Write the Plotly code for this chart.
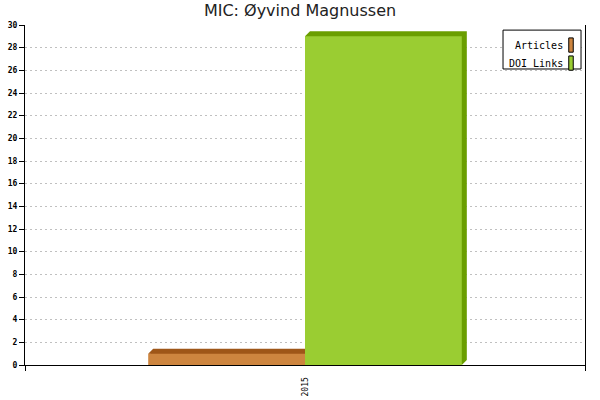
import plotly.graph_objects as go

# data
years = ["2015"]
series_names = ["Articles", "DOI Links"]
articles = [1]
doi_links = [29]
front_colors = ["#CD853F", "#9ACD32"]
side_colors = ["#9E5618", "#6A9E00"]

# plot geometry (pixels) used to turn the 3d depth into axis units
PLOT_W, PLOT_H = 560, 340
Y_MAX = 30
BAR_W = 0.28
DEPTH_PX = 5
dx = DEPTH_PX / PLOT_W
dy = DEPTH_PX * Y_MAX / PLOT_H

fig = go.Figure()
shapes = []

for i, (name, vals) in enumerate(zip(series_names, [articles, doi_links])):
    offset = -BAR_W if i == 0 else 0
    fig.add_trace(go.Bar(
        x=list(range(len(years))), y=vals, name=name,
        offset=offset, width=BAR_W,
        marker=dict(color=front_colors[i], line=dict(width=0)),
        showlegend=False,
    ))
    # top + right face of the 3d box, drawn under the front face
    for xi, v in enumerate(vals):
        x0 = xi + offset
        x1 = x0 + BAR_W
        path = (f"M {x0},{v} L {x0+dx},{v+dy} L {x1+dx},{v+dy} "
                f"L {x1+dx},{dy} L {x1},0 Z")
        shapes.append(dict(type="path", path=path, xref="x", yref="y",
                           fillcolor=side_colors[i], line=dict(width=0),
                           layer="between"))

# hand made legend: text on the left, swatch on the right
shapes.append(dict(type="rect", xref="paper", yref="paper",
                   x0=0.8536, x1=0.9929, y0=0.8706, y1=0.985,
                   line=dict(color="black", width=1), fillcolor="white",
                   layer="above"))
annotations = []
for i, name in enumerate(series_names):
    yc = 0.941 - i * 0.053
    annotations.append(dict(text=name, xref="paper", yref="paper",
                            x=0.965, y=yc, xanchor="right", yanchor="middle",
                            showarrow=False,
                            font=dict(family="DejaVu Sans Mono", size=10, color="black")))
    shapes.append(dict(type="rect", xref="paper", yref="paper",
                       x0=0.971, x1=0.979, y0=yc - 0.021, y1=yc + 0.021,
                       line=dict(color="black", width=1),
                       fillcolor=front_colors[i], layer="above"))

fig.update_layout(
    width=600, height=400,
    margin=dict(l=25, r=15, t=25, b=35),
    plot_bgcolor="white", paper_bgcolor="white",
    title=dict(text="MIC: Øyvind Magnussen", x=0.5, xanchor="center",
               y=0.975, yanchor="middle", automargin=False,
               font=dict(family="DejaVu Sans", size=16, color="#222222")),
    shapes=shapes, annotations=annotations,
    barmode="overlay",
    showlegend=False,
)

fig.update_xaxes(
    range=[-0.5, len(years) - 0.5], automargin=False,
    tickvals=list(range(len(years))), ticktext=years,
    tickangle=-90, ticks="", ticklabelstandoff=8,
    tickfont=dict(family="DejaVu Sans Mono", size=8, color="black"),
    showgrid=False, zeroline=False,
    showline=True, linecolor="black", linewidth=1, layer="below traces",
    minor=dict(ticks="outside", ticklen=5, tickcolor="black",
               tick0=-0.5, dtick=1, showgrid=False),
)
fig.update_yaxes(
    range=[0, Y_MAX], tickmode="linear", tick0=0, dtick=2, automargin=False,
    ticks="outside", ticklen=5, tickcolor="black",
    tickfont=dict(family="DejaVu Sans Mono", size=8, color="black", weight="bold"),
    showgrid=True, gridcolor="#C0C0C0", griddash="2px,3px", gridwidth=1,
    zeroline=False,
    showline=True, linecolor="black", linewidth=1, mirror=True,
)

# page body has a default 8px margin; drop it so the figure sits at 0,0
fig.write_html("out.html", config={"displayModeBar": False},
               post_script="document.body.style.margin='0';")
